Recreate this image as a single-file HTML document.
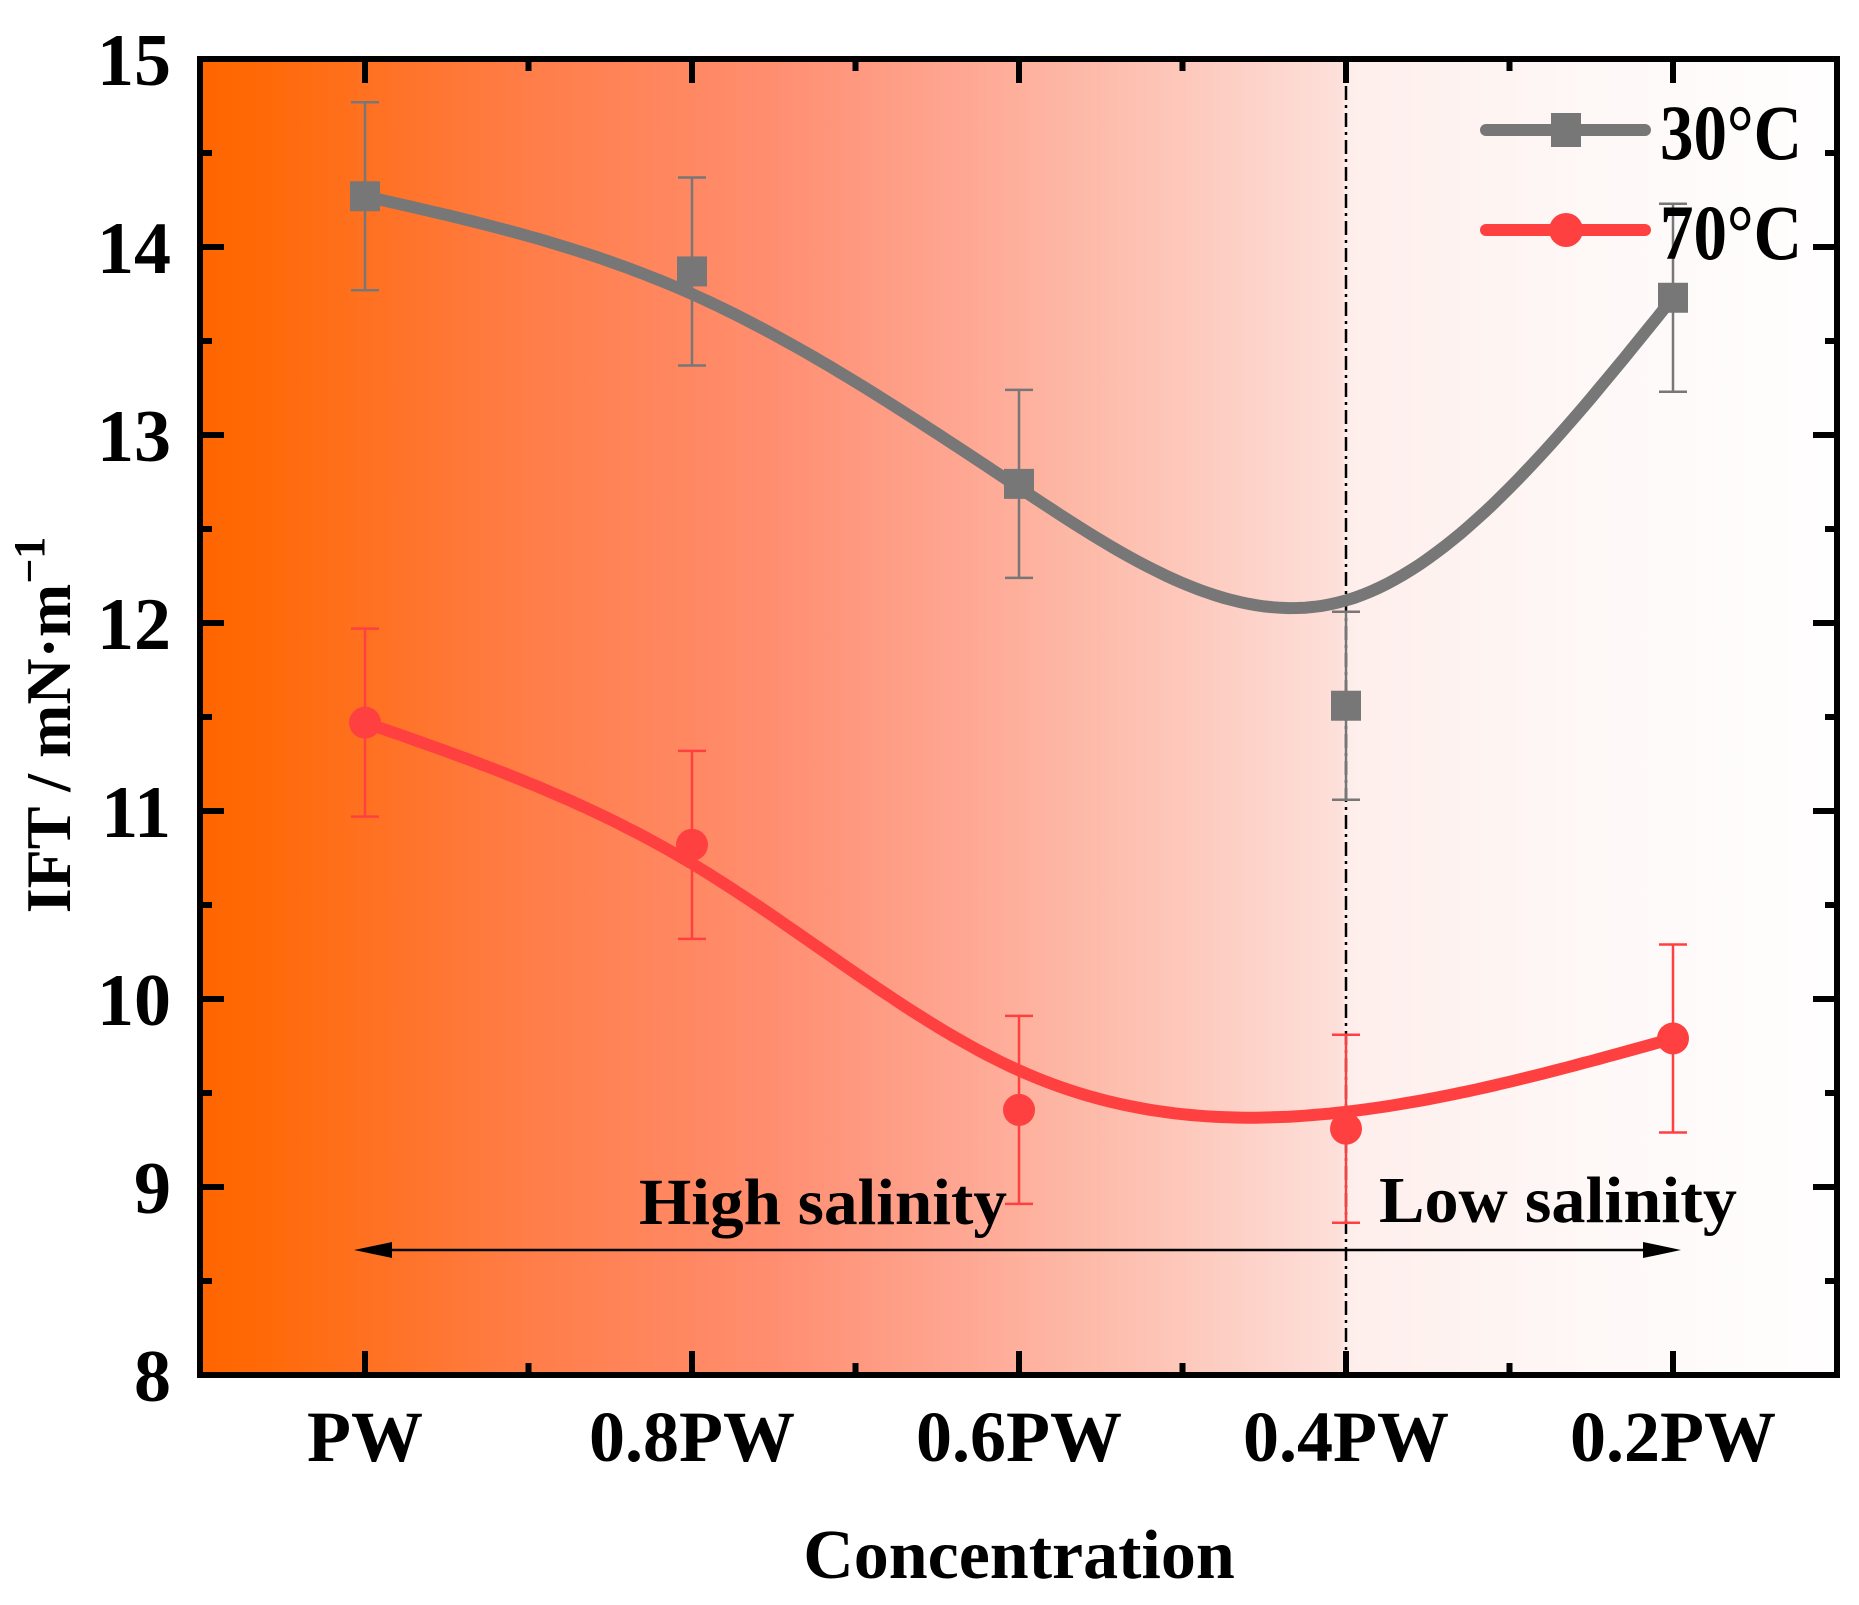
<!DOCTYPE html>
<html><head><meta charset="utf-8"><style>
html,body{margin:0;padding:0;background:#fff}
svg{display:block}
text{font-family:"Liberation Serif",serif;font-weight:bold;fill:#000}
</style></head><body>
<svg id="chart" width="1859" height="1605" viewBox="0 0 1859 1605">
<defs>
<linearGradient id="bg" x1="0" x2="1" y1="0" y2="0">
<stop offset="0" stop-color="#ff6600"/>
<stop offset="0.03" stop-color="#ff6804"/>
<stop offset="0.2" stop-color="#ff7d48"/>
<stop offset="0.35" stop-color="#ff8e70"/>
<stop offset="0.45" stop-color="#fea38e"/>
<stop offset="0.55" stop-color="#fdbcab"/>
<stop offset="0.65" stop-color="#fdd4cb"/>
<stop offset="0.697" stop-color="#fde0da"/>
<stop offset="0.70" stop-color="#feeeeb"/>
<stop offset="0.85" stop-color="#fef8f7"/>
<stop offset="1" stop-color="#fffefe"/>
</linearGradient>
</defs>
<rect x="200" y="59" width="1637" height="1316" fill="url(#bg)"/>
<g id="marks"></g>
<g id="axes"></g>
</svg>
<script>
const categories = ["PW","0.8PW","0.6PW","0.4PW","0.2PW"];
const series30 = [14.27, 13.87, 12.74, 11.56, 13.73];
const series70 = [11.47, 10.82, 9.41, 9.31, 9.79];
const err30 = [0.5, 0.5, 0.5, 0.5, 0.5];
const err70 = [0.5, 0.5, 0.5, 0.5, 0.5];
const fit30 = [14.27, 13.75, 12.72, 12.12, 13.73];
const fit70 = [11.47, 10.72, 9.62, 9.40, 9.79];
const yTicks = [8, 9, 10, 11, 12, 13, 14, 15];

const NS = "http://www.w3.org/2000/svg";
const L = 200, R = 1837, T = 59, B = 1375;
function xs(i){ return 365 + i * 327; }
function ys(v){ return B - (v - 8) * (B - T) / 7; }
function mk(tag, attrs, parent){
  const e = document.createElementNS(NS, tag);
  for (const k in attrs) e.setAttribute(k, attrs[k]);
  parent.appendChild(e); return e;
}
const marks = document.getElementById('marks');
const axes = document.getElementById('axes');

let dv = mk('line', {x1: xs(3), x2: xs(3), y1: T, y2: B, stroke: '#000', 'stroke-width': 2.5, 'stroke-dasharray': '14,5,3,5'}, marks);



function spline(vals){
  const n = vals.length;
  const a = vals.slice(), c = new Array(n).fill(0);
  const alpha = [0], l = [1], mu = [0], z = [0];
  for (let i = 1; i < n - 1; i++) alpha[i] = 3 * (a[i+1] - 2*a[i] + a[i-1]);
  for (let i = 1; i < n - 1; i++){ l[i] = 4 - mu[i-1]; mu[i] = 1 / l[i]; z[i] = (alpha[i] - z[i-1]) / l[i]; }
  z[n-1] = 0;
  const b = [], d = [];
  for (let j = n - 2; j >= 0; j--){
    c[j] = z[j] - mu[j] * c[j+1];
    b[j] = (a[j+1] - a[j]) - (c[j+1] + 2*c[j]) / 3;
    d[j] = (c[j+1] - c[j]) / 3;
  }
  let pts = [];
  for (let j = 0; j < n - 1; j++){
    for (let s = 0; s <= 40; s++){
      const t = s / 40;
      const v = a[j] + b[j]*t + c[j]*t*t + d[j]*t*t*t;
      pts.push((xs(j + t)).toFixed(1) + ',' + ys(v).toFixed(1));
    }
  }
  return 'M' + pts.join('L');
}

function drawSeries(vals, errs, fit, color, shape, name){
  const g = mk('g', {}, marks);
  
  
  const p = mk('path', {d: spline(fit), fill: 'none', stroke: color, 'stroke-width': 12, 'stroke-linecap': 'round'}, g);
  
  
  vals.forEach((v, i) => {
    const x = xs(i), y1 = ys(v + errs[i]), y2 = ys(v - errs[i]);
    const eb = mk('path', {d: `M${x},${y1}V${y2}M${x-14},${y1}H${x+14}M${x-14},${y2}H${x+14}`, stroke: color, 'stroke-width': 2.5, fill: 'none'}, g);
    
    
    let m;
    if (shape === 'square') m = mk('rect', {x: x - 15, y: ys(v) - 15, width: 30, height: 30, fill: color}, g);
    else m = mk('circle', {cx: x, cy: ys(v), r: 16, fill: color}, g);
    
    
  });
}
drawSeries(series30, err30, fit30, '#777777', 'square', 'series-30c');
drawSeries(series70, err70, fit70, '#ff4040', 'circle', 'series-70c');

const ay = 1250;
let ar = mk('g', {}, marks);


mk('line', {x1: 385, x2: 1650, y1: ay, y2: ay, stroke: '#000', 'stroke-width': 2.5}, ar);
mk('path', {d: `M354,${ay}L392,${ay-8}L392,${ay+8}Z`, fill: '#000'}, ar);
mk('path', {d: `M1681,${ay}L1643,${ay-8}L1643,${ay+8}Z`, fill: '#000'}, ar);
let t1 = mk('text', {x: 823, y: 1224, 'font-size': 66, 'text-anchor': 'middle', textLength: 368, lengthAdjust: 'spacingAndGlyphs'}, marks);
t1.textContent = 'High salinity';


let t2 = mk('text', {x: 1558, y: 1222, 'font-size': 66, 'text-anchor': 'middle', textLength: 358, lengthAdjust: 'spacingAndGlyphs'}, marks);
t2.textContent = 'Low salinity';



const lg = mk('g', {}, marks);


const le1 = mk('g', {}, lg);


mk('line', {x1: 1486, x2: 1645, y1: 130, y2: 130, stroke: '#777777', 'stroke-width': 12, 'stroke-linecap': 'round'}, le1);
mk('rect', {x: 1551, y: 113, width: 30, height: 34, fill: '#777777'}, le1);
let lt1 = mk('text', {x: 1660, y: 159, 'font-size': 78, textLength: 142, lengthAdjust: 'spacingAndGlyphs'}, le1); lt1.textContent = '30°C';
const le2 = mk('g', {}, lg);


mk('line', {x1: 1486, x2: 1645, y1: 230, y2: 230, stroke: '#ff4040', 'stroke-width': 12, 'stroke-linecap': 'round'}, le2);
mk('circle', {cx: 1566, cy: 230, r: 17, fill: '#ff4040'}, le2);
let lt2 = mk('text', {x: 1660, y: 259, 'font-size': 78, textLength: 142, lengthAdjust: 'spacingAndGlyphs'}, le2); lt2.textContent = '70°C';

const fr = mk('rect', {x: L, y: T, width: R - L, height: B - T, fill: 'none', stroke: '#000', 'stroke-width': 6}, axes);



yTicks.forEach((v, i) => {
  const y = ys(v);
  mk('line', {x1: L, x2: L + 24, y1: y, y2: y, stroke: '#000', 'stroke-width': 6}, axes);
  mk('line', {x1: R, x2: R - 24, y1: y, y2: y, stroke: '#000', 'stroke-width': 6}, axes);
  if (i < yTicks.length - 1){
    const ym = ys(v + 0.5);
    mk('line', {x1: L, x2: L + 12, y1: ym, y2: ym, stroke: '#000', 'stroke-width': 6}, axes);
    mk('line', {x1: R, x2: R - 12, y1: ym, y2: ym, stroke: '#000', 'stroke-width': 6}, axes);
  }
  const t = mk('text', {x: 171, y: y + 26, 'font-size': 74, 'text-anchor': 'end'}, axes);
  t.textContent = v;
  
  
});
categories.forEach((c, i) => {
  const x = xs(i);
  mk('line', {x1: x, x2: x, y1: B, y2: B - 24, stroke: '#000', 'stroke-width': 6}, axes);
  mk('line', {x1: x, x2: x, y1: T, y2: T + 24, stroke: '#000', 'stroke-width': 6}, axes);
  if (i < categories.length - 1){
    const xm = xs(i + 0.5);
    mk('line', {x1: xm, x2: xm, y1: B, y2: B - 12, stroke: '#000', 'stroke-width': 6}, axes);
    mk('line', {x1: xm, x2: xm, y1: T, y2: T + 12, stroke: '#000', 'stroke-width': 6}, axes);
  }
  const t = mk('text', {x: x, y: 1461, 'font-size': 72, 'text-anchor': 'middle'}, axes);
  t.textContent = c;
  
  
});
const xt = mk('text', {x: 1019, y: 1578, 'font-size': 70, 'text-anchor': 'middle'}, axes);
xt.textContent = 'Concentration';


const yt = mk('text', {x: 0, y: 0, 'font-size': 64, 'text-anchor': 'middle', transform: 'translate(70,725) rotate(-90)'}, axes);
yt.innerHTML = 'IFT / mN·m<tspan dy="-26" font-size="44">−1</tspan>';


</script>
</body></html>
